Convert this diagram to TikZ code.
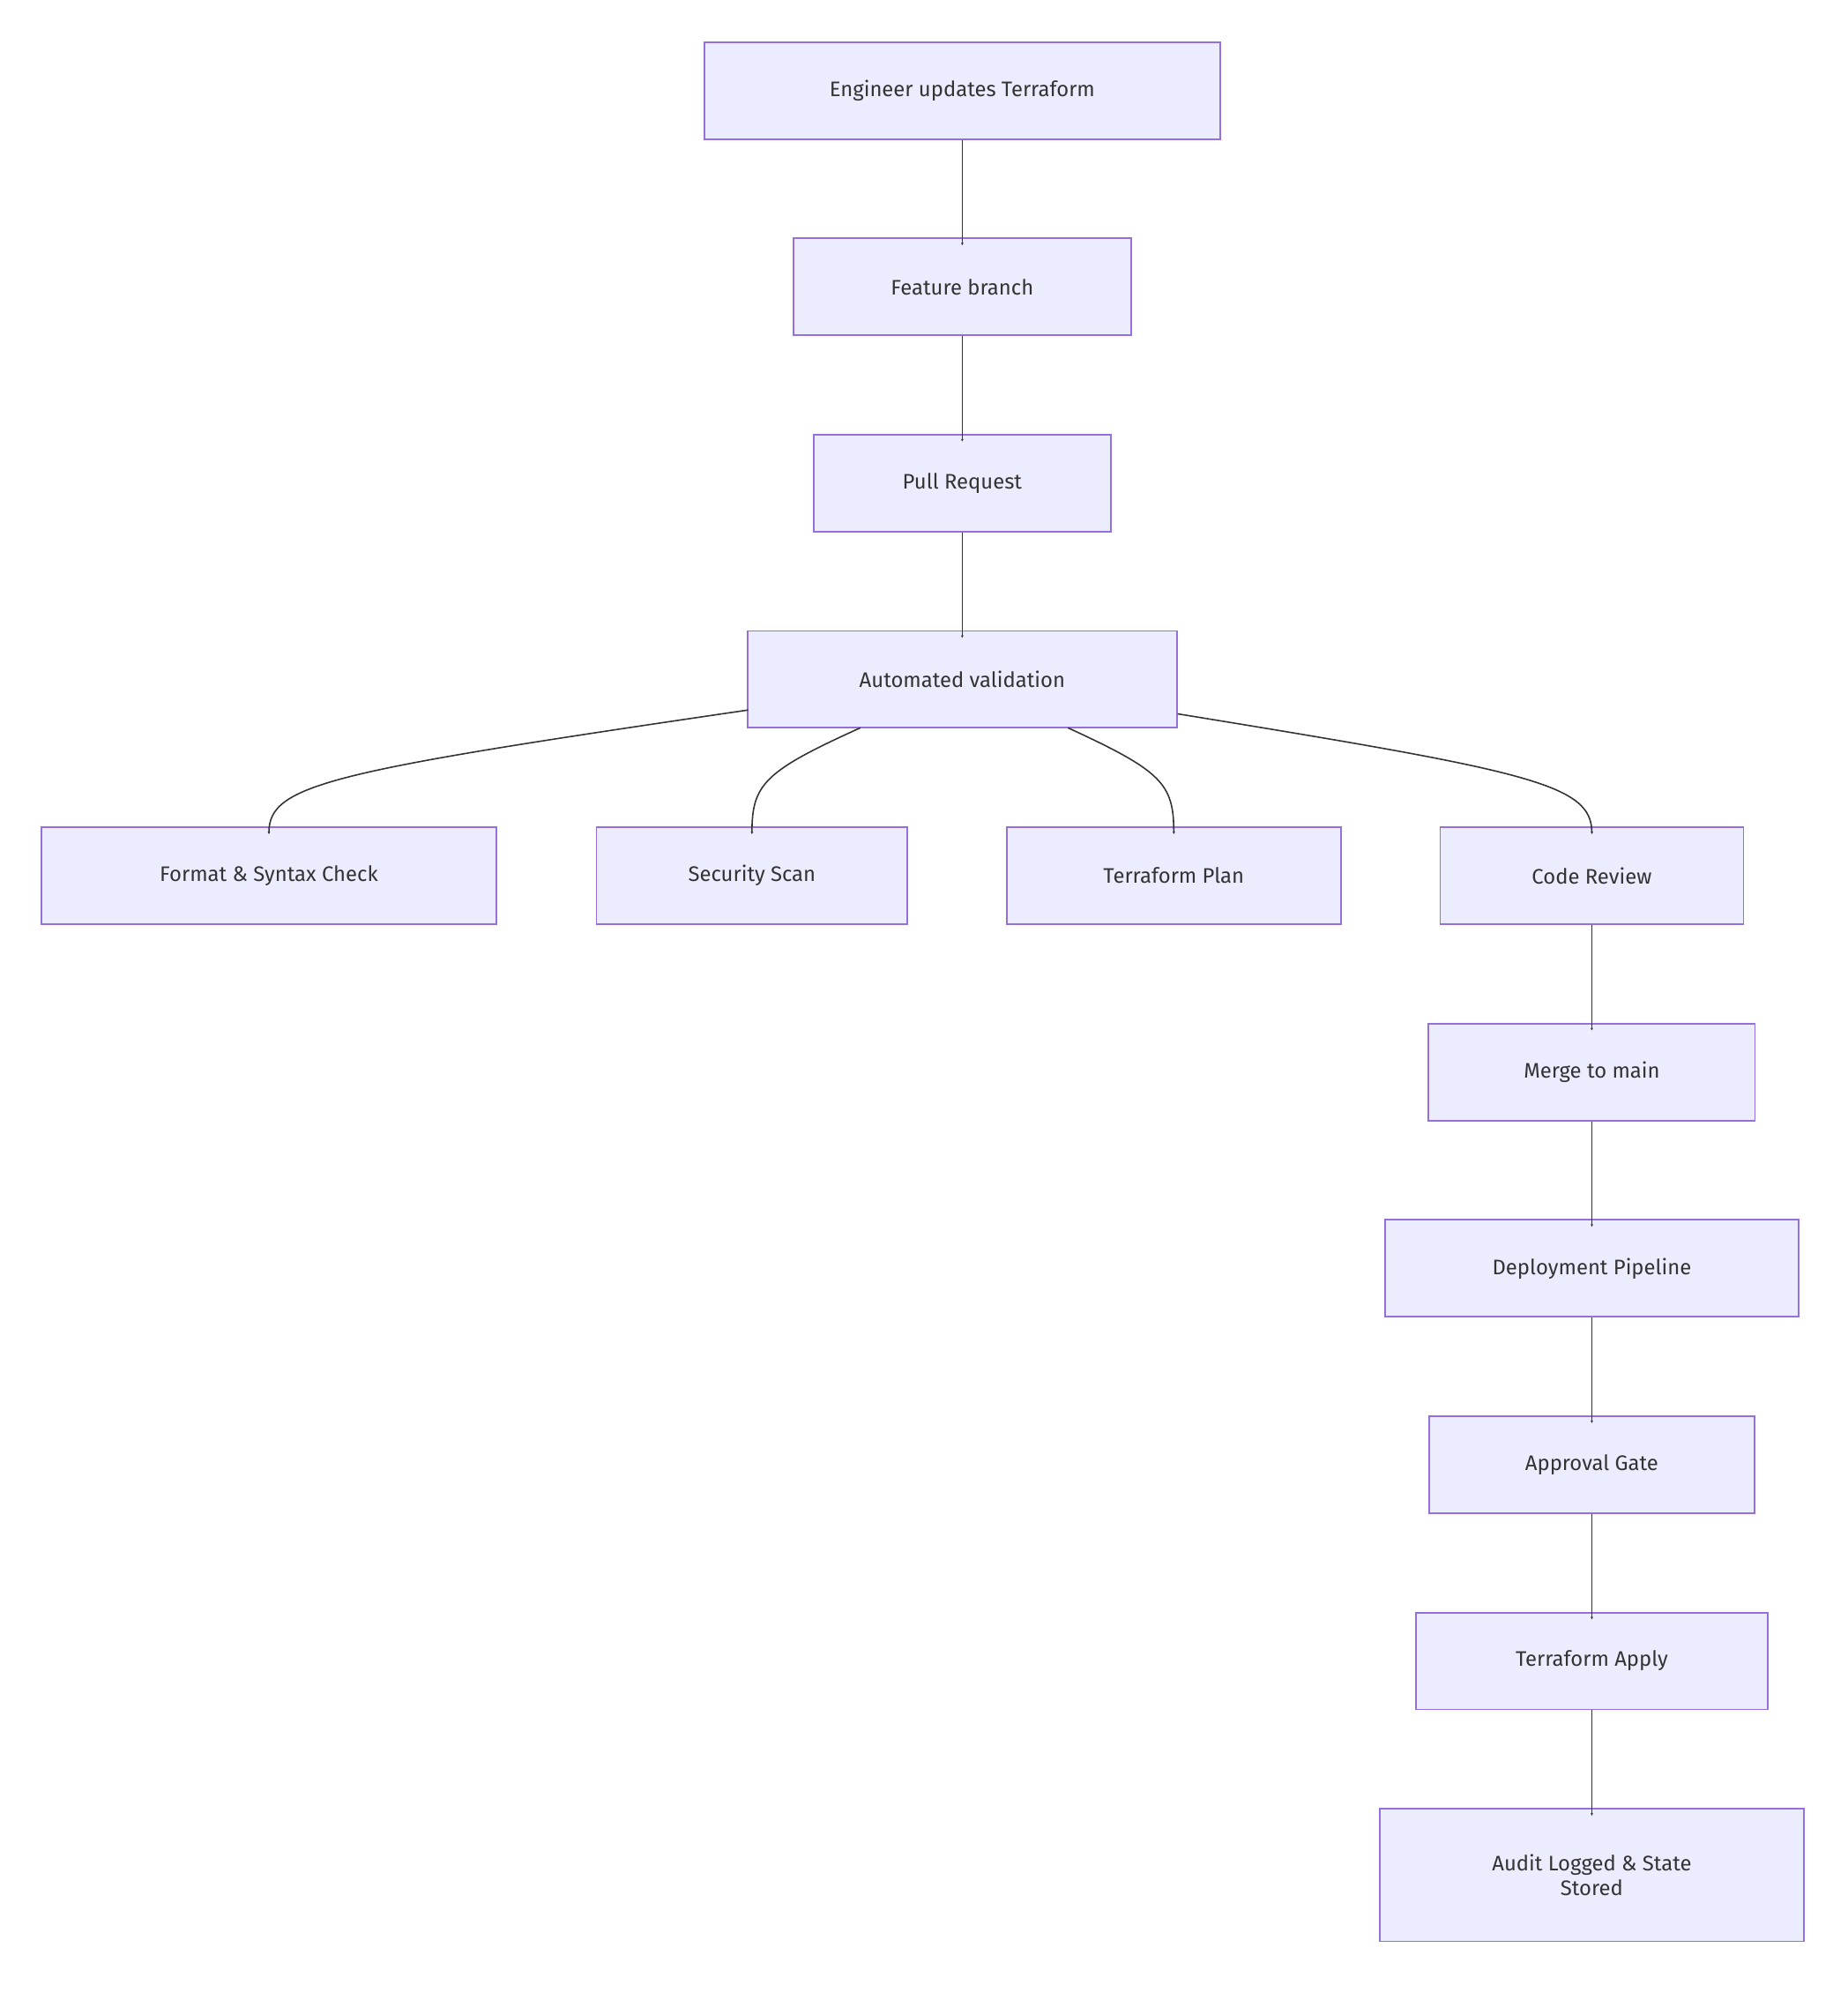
\documentclass[tikz,border=0pt]{standalone}
\usepackage{fontspec}
\setmainfont{Fira Sans}
\usetikzlibrary{arrows.meta}
\definecolor{nfill}{HTML}{ECECFF}
\definecolor{nstroke}{HTML}{9370DB}
\definecolor{ntext}{HTML}{333333}
\begin{document}
\begin{tikzpicture}[x=1pt,y=-1pt,
  box/.style={draw=nstroke,fill=nfill,line width=1.3pt,text=ntext,font=\fontsize{16.5}{19}\selectfont,minimum height=76pt,inner sep=0pt,align=center},
  edge/.style={draw=ntext,line width=1.1pt,-{Stealth[length=2pt,width=2pt]}}]
\useasboundingbox (0,0) rectangle (1450,1569);
\node[box,minimum width=405pt] (eng) at (755,71) {Engineer updates Terraform};
\node[box,minimum width=265pt] (feat) at (755,225) {Feature branch};
\node[box,minimum width=233pt] (pr) at (755,379) {Pull Request};
\node[box,minimum width=337pt] (auto) at (755,533) {Automated validation};
\node[box,minimum width=357pt] (fmt) at (211,687) {Format \& Syntax Check};
\node[box,minimum width=244pt] (sec) at (590,687) {Security Scan};
\node[box,minimum width=262pt] (plan) at (921,687) {Terraform Plan};
\node[box,minimum width=238pt] (cr) at (1249,687) {Code Review};
\node[box,minimum width=256pt] (merge) at (1249,841) {Merge to main};
\node[box,minimum width=325pt] (dep) at (1249,995) {Deployment Pipeline};
\node[box,minimum width=255pt] (appr) at (1249,1149) {Approval Gate};
\node[box,minimum width=276pt] (apply) at (1249,1303) {Terraform Apply};
\node[box,minimum width=333pt,minimum height=104pt] (audit) at (1249,1471) {Audit Logged \& State\\Stored};
\draw[edge] (eng.south) -- ([yshift=-6pt]feat.north);
\draw[edge] (feat.south) -- ([yshift=-6pt]pr.north);
\draw[edge] (pr.south) -- ([yshift=-6pt]auto.north);
\draw[edge] (cr.south) -- ([yshift=-6pt]merge.north);
\draw[edge] (merge.south) -- ([yshift=-6pt]dep.north);
\draw[edge] (dep.south) -- ([yshift=-6pt]appr.north);
\draw[edge] (appr.south) -- ([yshift=-6pt]apply.north);
\draw[edge] (apply.south) -- ([yshift=-6pt]audit.north);
\coordinate (a1) at (587,557);
\coordinate (a2) at (675,571);
\coordinate (a3) at (838,571);
\coordinate (a4) at (924,560);
\draw[edge] (a1) .. controls (260,605) and (211,615) .. ([yshift=-6pt]fmt.north);
\draw[edge] (a2) .. controls (600,605) and (590,615) .. ([yshift=-6pt]sec.north);
\draw[edge] (a3) .. controls (912,605) and (921,615) .. ([yshift=-6pt]plan.north);
\draw[edge] (a4) .. controls (1200,605) and (1249,615) .. ([yshift=-6pt]cr.north);
\end{tikzpicture}
\end{document}
